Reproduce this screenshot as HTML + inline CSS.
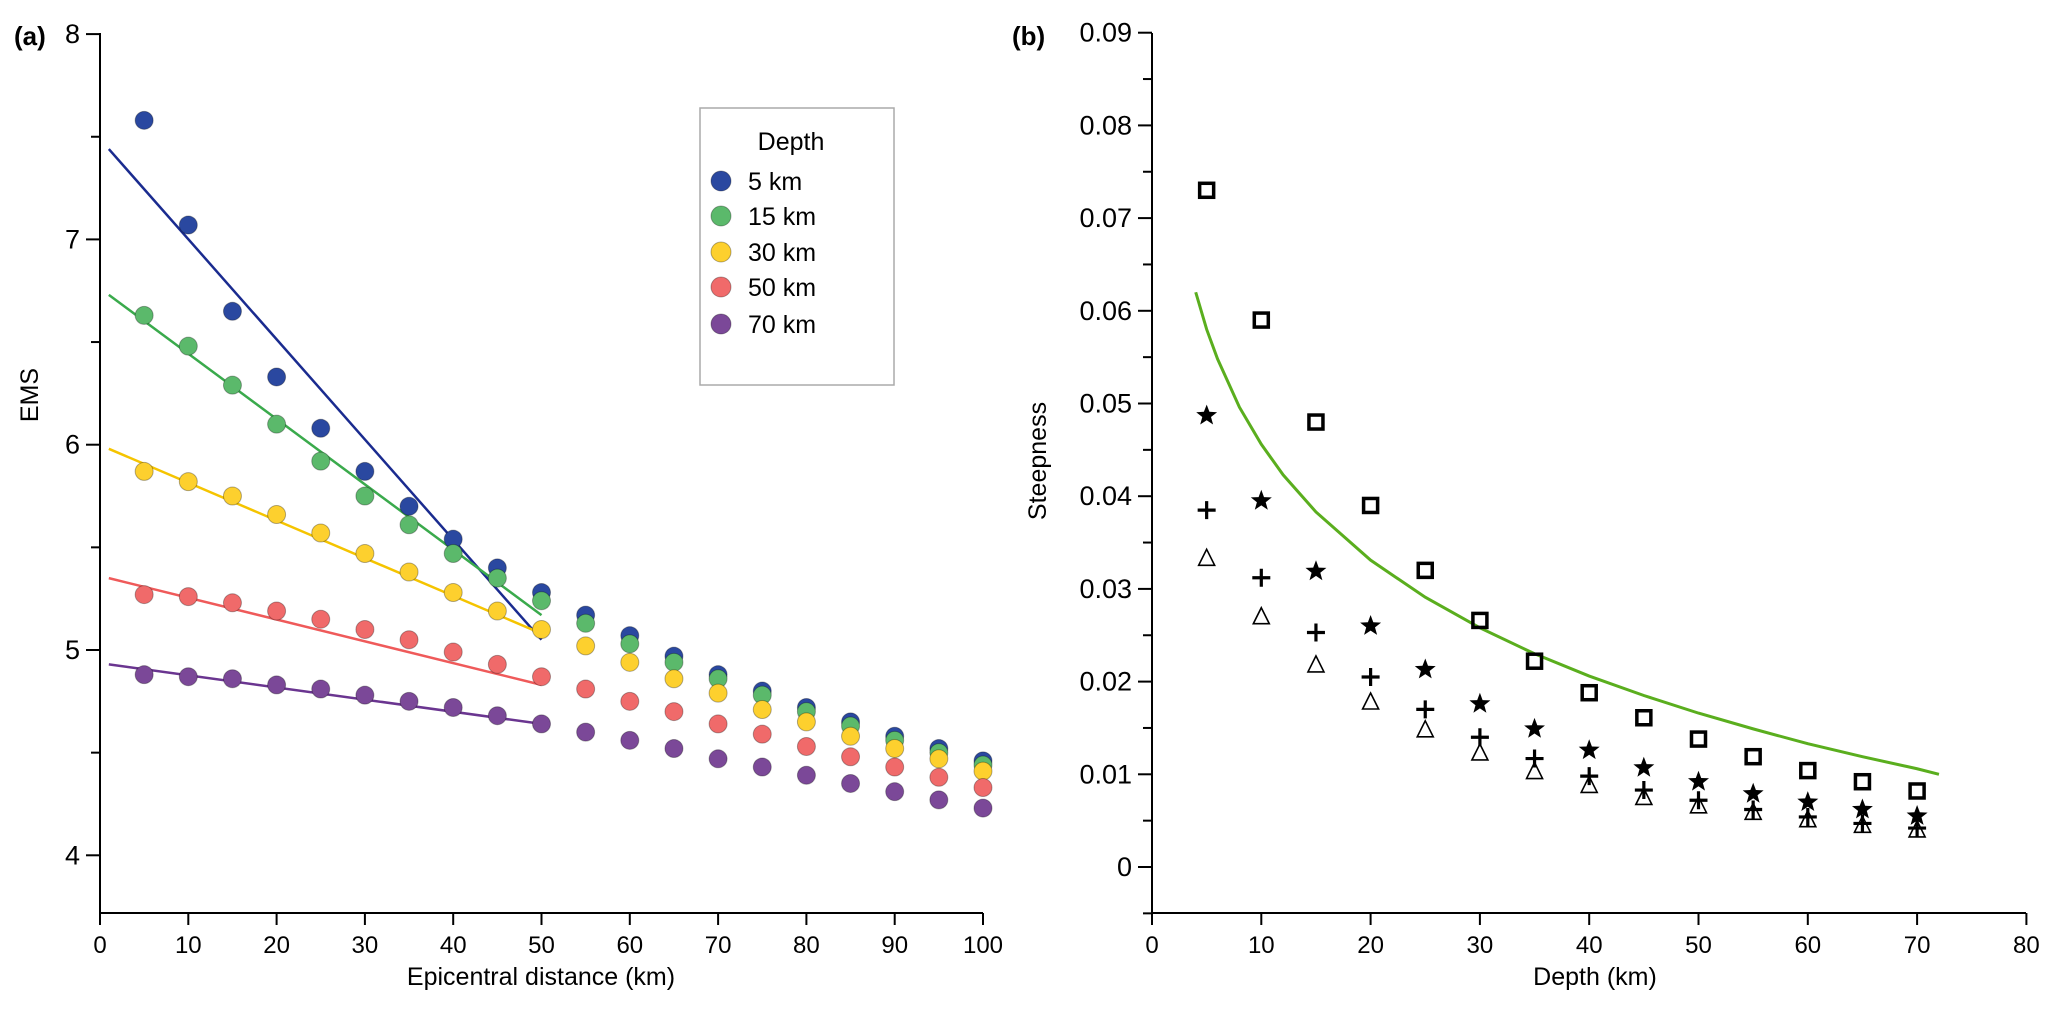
<!DOCTYPE html>
<html><head><meta charset="utf-8"><style>
body{margin:0;background:#fff}
svg{display:block;font-family:"Liberation Sans",Arial,sans-serif}
</style></head><body>
<svg id="c" width="2067" height="1026" viewBox="0 0 2067 1026" xmlns="http://www.w3.org/2000/svg"></svg>
<script>
// Panel (a) data
const distances=[5,10,15,20,25,30,35,40,45,50,55,60,65,70,75,80,85,90,95,100];
const ems5=[7.58,7.07,6.65,6.33,6.08,5.87,5.70,5.54,5.40,5.28,5.17,5.07,4.97,4.88,4.80,4.72,4.65,4.58,4.52,4.46];
const ems15=[6.63,6.48,6.29,6.10,5.92,5.75,5.61,5.47,5.35,5.24,5.13,5.03,4.94,4.86,4.78,4.70,4.63,4.56,4.50,4.44];
const ems30=[5.87,5.82,5.75,5.66,5.57,5.47,5.38,5.28,5.19,5.10,5.02,4.94,4.86,4.79,4.71,4.65,4.58,4.52,4.47,4.41];
const ems50=[5.27,5.26,5.23,5.19,5.15,5.10,5.05,4.99,4.93,4.87,4.81,4.75,4.70,4.64,4.59,4.53,4.48,4.43,4.38,4.33];
const ems70=[4.88,4.87,4.86,4.83,4.81,4.78,4.75,4.72,4.68,4.64,4.60,4.56,4.52,4.47,4.43,4.39,4.35,4.31,4.27,4.23];
const fitX=[1,50];
const fit5=[7.44,5.05];
const fit15=[6.73,5.17];
const fit30=[5.98,5.08];
const fit50=[5.35,4.83];
const fit70=[4.93,4.64];
const depthLabels=["5 km","15 km","30 km","50 km","70 km"];
const aXTicks=[0,10,20,30,40,50,60,70,80,90,100];
const aYTicks=[4,5,6,7,8];
// Panel (b) data
const depthsB=[5,10,15,20,25,30,35,40,45,50,55,60,65,70];
const stSquare=[0.073,0.059,0.048,0.039,0.032,0.0266,0.0222,0.0188,0.0161,0.0138,0.0119,0.0104,0.0092,0.0082];
const stStar=[0.0487,0.0395,0.0319,0.026,0.0213,0.0176,0.0149,0.0126,0.0107,0.0092,0.0079,0.0070,0.0062,0.0055];
const stPlus=[0.0385,0.0312,0.0253,0.0205,0.0170,0.0140,0.0117,0.0098,0.0083,0.0072,0.0062,0.0054,0.0047,0.0042];
const stTri=[0.0333,0.027,0.0218,0.0178,0.0148,0.0123,0.0103,0.0088,0.0075,0.0066,0.0059,0.0051,0.0045,0.0040];
const curveX=[4,5,6,8,10,12,15,20,25,30,35,40,45,50,55,60,65,70,72];
const curveY=[0.062,0.058,0.0548,0.0496,0.0456,0.0423,0.0383,0.0331,0.0291,0.0258,0.0230,0.0206,0.0185,0.0166,0.0149,0.0133,0.0119,0.0106,0.0100];
const bXTicks=[0,10,20,30,40,50,60,70,80];
const bYTicks=[0,0.01,0.02,0.03,0.04,0.05,0.06,0.07,0.08,0.09];

const NS="http://www.w3.org/2000/svg";
const svg=document.getElementById('c');
function mk(tag,attrs,parent){const e=document.createElementNS(NS,tag);for(const k in attrs)e.setAttribute(k,attrs[k]);(parent||svg).appendChild(e);return e;}
function txt(s,attrs,parent){const e=mk('text',attrs,parent);e.textContent=s;return e;}

// scales
const ax=v=>100+v*8.83;
const ay=v=>650-(v-5)*205.3;
const bx=v=>1152+v*10.93;
const by=v=>867-v*9270;

// ===== Panel a axes
const ga=mk('g',{});


mk('line',{x1:100,y1:33,x2:100,y2:913,stroke:'#000','stroke-width':2},ga);
mk('line',{x1:100,y1:913,x2:983,y2:913,stroke:'#000','stroke-width':2},ga);
aYTicks.forEach(v=>{
  mk('line',{x1:86,y1:ay(v),x2:100,y2:ay(v),stroke:'#000','stroke-width':2},ga);
  const t=txt(String(v),{x:80,y:ay(v)+9,'font-size':27,'text-anchor':'end'},ga);
  
  
  if(v<8) mk('line',{x1:91,y1:ay(v+0.5),x2:100,y2:ay(v+0.5),stroke:'#000','stroke-width':2},ga);
});
aXTicks.forEach(v=>{
  mk('line',{x1:ax(v),y1:913,x2:ax(v),y2:925,stroke:'#000','stroke-width':2},ga);
  const t=txt(String(v),{x:ax(v),y:953,'font-size':24,'text-anchor':'middle'},ga);
  
  
});
let t=txt('Epicentral distance (km)',{x:541,y:985,'font-size':25,'text-anchor':'middle'},ga);


t=txt('EMS',{x:0,y:0,'font-size':25,'text-anchor':'middle',transform:'translate(38,395) rotate(-90)'},ga);


t=txt('(a)',{x:14,y:45,'font-size':26,'font-weight':'bold'},ga);



const seriesA=[[ems5,fit5,'#2a48a0','#1a2b8f'],[ems15,fit15,'#5bb96b','#3aaa4c'],[ems30,fit30,'#fdd02e','#f5c400'],[ems50,fit50,'#f06a6a','#ef5a5a'],[ems70,fit70,'#7b4898','#6a3590']];
seriesA.forEach((s,i)=>{
  const l=mk('line',{x1:ax(fitX[0]),y1:ay(s[1][0]),x2:ax(fitX[1]),y2:ay(s[1][1]),stroke:s[3],'stroke-width':2.5},ga);
  
  
});
seriesA.forEach((s,i)=>{
  s[0].forEach((v,j)=>{
    const c=mk('circle',{cx:ax(distances[j]),cy:ay(v),r:9,fill:s[2],stroke:'rgba(0,0,0,0.3)','stroke-width':1},ga);
    
    
  });
});
// legend
const lg=mk('g',{},ga);


mk('rect',{x:700,y:108,width:194,height:277,fill:'#fff',stroke:'#aaa','stroke-width':1.5},lg);
t=txt('Depth',{x:791,y:150,'font-size':25,'text-anchor':'middle'},lg);


const lgY=[181,216,252,287,324];
seriesA.forEach((s,i)=>{
  const c=mk('circle',{cx:721,cy:lgY[i],r:10,fill:s[2],stroke:'rgba(0,0,0,0.3)','stroke-width':1},lg);
  
  
  const tt=txt(depthLabels[i],{x:748,y:lgY[i]+9,'font-size':25},lg);
  
  
});

// ===== Panel b
const gb=mk('g',{});


mk('line',{x1:1152,y1:33,x2:1152,y2:913,stroke:'#000','stroke-width':2},gb);
mk('line',{x1:1152,y1:913,x2:2026,y2:913,stroke:'#000','stroke-width':2},gb);
bYTicks.forEach(v=>{
  mk('line',{x1:1138,y1:by(v),x2:1152,y2:by(v),stroke:'#000','stroke-width':2},gb);
  const tt=txt(v===0?'0':v.toFixed(2),{x:1132,y:by(v)+9,'font-size':27,'text-anchor':'end'},gb);
  
  
  mk('line',{x1:1143,y1:by(v-0.005),x2:1152,y2:by(v-0.005),stroke:'#000','stroke-width':2},gb);
});
bXTicks.forEach(v=>{
  mk('line',{x1:bx(v),y1:913,x2:bx(v),y2:925,stroke:'#000','stroke-width':2},gb);
  const tt=txt(String(v),{x:bx(v),y:953,'font-size':24,'text-anchor':'middle'},gb);
  
  
});
t=txt('Depth (km)',{x:1595,y:985,'font-size':25,'text-anchor':'middle'},gb);


t=txt('Steepness',{x:0,y:0,'font-size':25,'text-anchor':'middle',transform:'translate(1046,461) rotate(-90)'},gb);


t=txt('(b)',{x:1012,y:45,'font-size':26,'font-weight':'bold'},gb);



const curve=mk('polyline',{points:curveX.map((x,i)=>bx(x)+','+by(curveY[i])).join(' '),fill:'none',stroke:'#5aae1e','stroke-width':3},gb);



depthsB.forEach((d,i)=>{
  const x=bx(d);
  let y=by(stSquare[i]);
  const s=mk('rect',{x:x-7,y:y-7,width:14,height:14,fill:'none',stroke:'#000','stroke-width':3.5},gb);
  
  
  y=by(stStar[i]);
  let pts=[];
  for(let k=0;k<10;k++){const r=k%2?4.6:11;const a=-Math.PI/2+k*Math.PI/5;pts.push((x+r*Math.cos(a)).toFixed(1)+','+(y+r*Math.sin(a)).toFixed(1));}
  const st=mk('polygon',{points:pts.join(' '),fill:'#000'},gb);
  
  
  y=by(stPlus[i]);
  const p=mk('path',{d:`M${x-9} ${y}H${x+9}M${x} ${y-9}V${y+9}`,stroke:'#000','stroke-width':3.2,fill:'none'},gb);
  
  
  y=by(stTri[i]);
  const tr=mk('polygon',{points:`${x},${y-9} ${x+8},${y+7} ${x-8},${y+7}`,fill:'none',stroke:'#000','stroke-width':1.6},gb);
  
  
});
</script>
</body></html>
